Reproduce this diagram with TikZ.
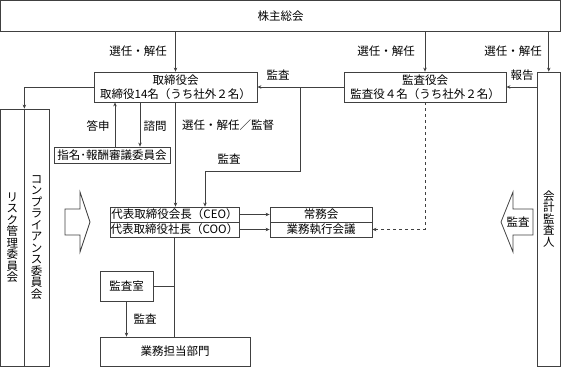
\documentclass[tikz,border=0pt]{standalone}
\usepackage{fontspec}
\setmainfont{Noto Sans CJK JP}
\usetikzlibrary{calc}
\usetikzlibrary{arrows.meta}
\tikzstyle{box}=[draw=black!75, line width=0.8pt, inner sep=0pt, align=center, font=\fontsize{11.5}{14.5}\selectfont]
\tikzstyle{vbox}=[box, font=\fontsize{11.5}{11.5}\selectfont]
\tikzstyle{lbl}=[inner sep=0pt, font=\fontsize{11.5}{14}\selectfont]
\tikzstyle{ln}=[draw=black!75, line width=0.8pt]
\tikzstyle{arr}=[ln, -{Stealth[length=4pt,width=3.5pt]}]
\tikzstyle{blk}=[draw=black!75, line width=0.8pt, fill=white]

\begin{document}
\begin{tikzpicture}[x=1pt, y=-1pt]
    \useasboundingbox (0,0) rectangle (562,368);

    %top
    \node [box, minimum width=560, minimum height=30.5] (soukai) at (280.5,15.75) {株主総会};

    %boards
    \node [box, minimum width=163, minimum height=30] (torishimari) at (175.5,87) {取締役会\\取締役14名（うち社外２名）};
    \node [box, minimum width=162, minimum height=30] (kansayaku) at (425,87) {監査役会\\監査役４名（うち社外２名）};
    \node [vbox, minimum width=23.5, minimum height=294] (kaikei) at (548.75,219) {会\\計\\監\\査\\人};
    \node [box, minimum width=116, minimum height=16] (shimei) at (112,155) {指名･報酬審議委員会};

    %left committees
    \node [vbox, minimum width=23.5, minimum height=257] (risk) at (12.25,237.5) {リ\\ス\\ク\\管\\理\\委\\員\\会};
    \node [vbox, minimum width=25, minimum height=257] (comp) at (36.5,237.5) {コ\\ン\\プ\\ラ\\イ\\ア\\ン\\ス\\委\\員\\会};

    %executives
    \node [box, minimum width=129, minimum height=15] (ceo) at (174.5,214.5) {代表取締役会長（CEO）};
    \node [box, minimum width=129, minimum height=15] (coo) at (174.5,229.5) {代表取締役社長（COO）};
    \node [box, minimum width=102, minimum height=15] (joumu) at (321,214.5) {常務会};
    \node [box, minimum width=102, minimum height=15] (gyoumu) at (321,229.5) {業務執行会議};

    %bottom
    \node [box, minimum width=53, minimum height=30] (kansashitsu) at (126.5,286) {監査室};
    \node [box, minimum width=150, minimum height=29] (bumon) at (175,351.5) {業務担当部門};

    %block arrows
    \draw [blk] (65,209) -- ++(15,0) -- ++(0,-17) -- ++(10,30) -- ++(-10,30) -- ++(0,-17) -- ++(-15,0) -- cycle;
    \draw [blk] (533,209) -- ++(-20,0) -- ++(0,-17) -- ++(-12,30) -- ++(12,30) -- ++(0,-17) -- ++(20,0) -- cycle;
    \node [lbl] (kansaB) at (518,222) {監査};

    %connectors
    \draw [arr] (soukai.south -| torishimari.north) -- (torishimari.north);
    \draw [arr] (soukai.south -| kansayaku.north) -- (kansayaku.north);
    \draw [arr] (soukai.south -| kaikei.north) -- (kaikei.north);
    \draw [arr] (kaikei.west |- kansayaku.east) -- (kansayaku.east);
    \draw [arr] (kansayaku.west) -- (torishimari.east);
    \coordinate (kb) at (300,87);
    \coordinate (kd) at (205,171);
    \draw [arr] (kb) |- (kd) -- (kd |- ceo.north);
    \draw [arr] (torishimari.south) -- (torishimari.south |- ceo.north);
    \draw [arr] (torishimari.west) -| (risk.north east);
    \draw [arr] ([xshift=3pt]shimei.north) -- ([xshift=3pt]shimei.north |- torishimari.south);
    \draw [arr] ([xshift=28pt]shimei.north |- torishimari.south) -- ([xshift=28pt]shimei.north);
    \draw [arr] (ceo.east) -- (joumu.west);
    \draw [arr] (coo.east) -- (gyoumu.west);
    \draw [arr, dashed] (kansayaku.south) |- (gyoumu.east);
    \draw [ln] (coo.south) -- (coo.south |- bumon.north);
    \draw [ln] (kansashitsu.east) -- (kansashitsu.east -| coo.south);
    \draw [arr] (kansashitsu.south) -- (kansashitsu.south |- bumon.north);

    %labels
    \node [lbl] (l1) at (138,51) {選任・解任};
    \node [lbl] (l2) at (386,51) {選任・解任};
    \node [lbl] (l3) at (513,51) {選任・解任};
    \node [lbl] (l4) at (278,75) {監査};
    \node [lbl] (l5) at (522,75) {報告};
    \node [lbl] (l6) at (98,126) {答申};
    \node [lbl] (l7) at (155,126) {諮問};
    \node [lbl] (l8) at (228,125) {選任・解任／監督};
    \node [lbl] (l9) at (229,159) {監査};
    \node [lbl] (l10) at (145,319) {監査};

\end{tikzpicture}
\end{document}
